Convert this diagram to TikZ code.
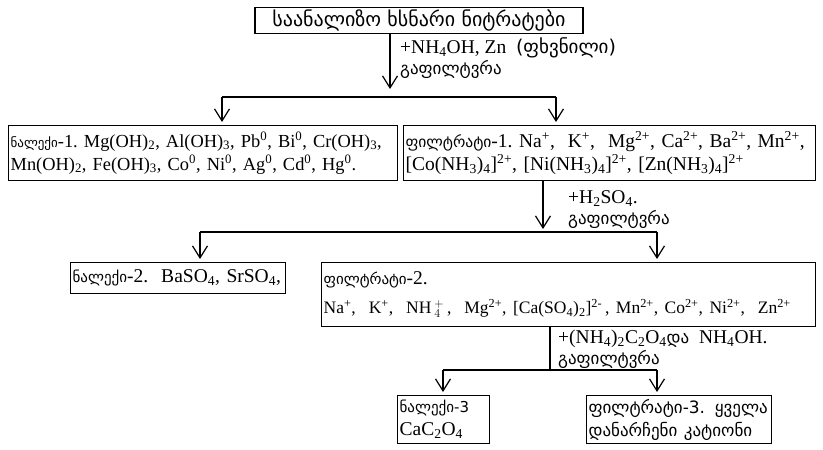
\documentclass[tikz,border=0pt]{standalone}
\usepackage{fontspec}
\setmainfont{Liberation Serif}
\newfontfamily\geo{DejaVu Sans}
\usetikzlibrary{arrows.meta}
% Georgian text at a given size
\newcommand{\ka}[2][17]{{\geo\fontsize{#1}{23}\selectfont #2}}
\newcommand{\sub}[1]{\textsubscript{#1}}
\newcommand{\sups}[1]{\textsuperscript{#1}}

\begin{document}
\begin{tikzpicture}[x=1pt,y=-1pt,
       box/.style={
           draw,
           line width=1.3pt,
           inner xsep=2pt,
           inner ysep=2pt,
           anchor=north west,
           align=left,
           font=\fontsize{19.5}{23}\selectfont
       },
       lbl/.style={
           anchor=north west,
           align=left,
           inner sep=0pt,
           font=\fontsize{19.5}{21}\selectfont
       },
       link/.style={line width=1.2pt},
       arr/.style={link, -{Straight Barb[length=12pt,width=15pt]}, shorten >=3pt}
   ]
   \useasboundingbox (0,0) rectangle (823,450);

   % Start
   \node[box, anchor=center, align=center, minimum width=328pt, minimum height=25pt]
       (src) at (419,20.5) {\ka[20]{საანალიზო ხსნარი ნიტრატები}};

   % First separation
   \node[box, text width=385pt, minimum height=55pt, font=\fontsize{18.4}{23}\selectfont] (nal1) at (8,125)
       {\ka[13]{ნალექი}-1.\ Mg(OH)\sub{2}, Al(OH)\sub{3}, Pb\sups{0}, Bi\sups{0}, Cr(OH)\sub{3},\\
        Mn(OH)\sub{2}, Fe(OH)\sub{3}, Co\sups{0}, Ni\sups{0}, Ag\sups{0}, Cd\sups{0}, Hg\sups{0}.};
   \node[box, text width=408pt, minimum height=55pt] (fil1) at (403,125)
       {\ka[15.5]{ფილტრატი}-1.\ Na\sups{+},\ \ K\sups{+},\ \ Mg\sups{2+}, Ca\sups{2+}, Ba\sups{2+}, Mn\sups{2+},\\
        {[}Co(NH\sub{3})\sub{4}]\sups{2+}, [Ni(NH\sub{3})\sub{4}]\sups{2+}, [Zn(NH\sub{3})\sub{4}]\sups{2+}};

   % Second separation
   \node[box, text width=211pt, minimum height=31pt] (nal2) at (70,262)
       {\ka[15]{ნალექი}-2.\ \ BaSO\sub{4}, SrSO\sub{4},};
   \node[box, text width=490pt, minimum height=64pt] (fil2) at (321,262)
       {\ka[15]{ფილტრატი}-2.\\[6pt]
        \fontsize{17.5}{21}\selectfont
        Na\sups{+},\ \ K\sups{+},\ \ NH\,$^{+}_{4}$\,,\ \ Mg\sups{2+}, [Ca(SO\sub{4})\sub{2}]\sups{2-}\,, Mn\sups{2+}, Co\sups{2+}, Ni\sups{2+},\ \ Zn\sups{2+}};

   % Third separation
   \node[box, text width=88pt, minimum height=48pt] (nal3) at (397,395)
       {\ka[15]{ნალექი-3}\\CaC\sub{2}O\sub{4}};
   \node[box, text width=181pt, minimum height=48pt] (fil3) at (586,395)
       {\ka{ფილტრატი-3. ყველა}\\\ka{დანარჩენი კატიონი}};

   % Junctions
   \coordinate (t1) at (390,89);
   \coordinate (a1) at (222,97);
   \coordinate (b1) at (556,97);
   \coordinate (t2) at (543,232);
   \coordinate (a2) at (200,232);
   \coordinate (b2) at (657,232);
   \coordinate (t3) at (550,370);
   \coordinate (a3) at (443,370);
   \coordinate (b3) at (657,370);

   % Connectors
   \draw[link, -{Straight Barb[length=12pt,width=15pt]}] (src.south -| t1) -- (t1);
   \draw[link] (a1) -- (b1);
   \draw[arr] (a1) -- (a1 |- nal1.north);
   \draw[arr] (b1) -- (b1 |- fil1.north);

   \draw[arr] (fil1.south -| t2) -- (t2);
   \draw[link] (a2) -- (b2);
   \draw[arr] (a2) -- (a2 |- nal2.north);
   \draw[arr] (b2) -- (b2 |- fil2.north);

   \draw[link] (fil2.south -| t3) -- (t3);
   \draw[link] (a3) -- (b3);
   \draw[arr] (a3) -- (a3 |- nal3.north);
   \draw[arr] (b3) -- (b3 |- fil3.north);

   % Reagents
   \node[lbl] (r1) at (400,37) {+NH\sub{4}OH, Zn\ \ \ka[19]{(ფხვნილი)}\\\ka{გაფილტვრა}};
   \node[lbl] (r2) at (568,190) {+H\sub{2}SO\sub{4}.\\\ka{გაფილტვრა}};
   \node[lbl] (r3) at (558,330) {+(NH\sub{4})\sub{2}C\sub{2}O\sub{4}\ka{და}\ \ NH\sub{4}OH.\\\ka{გაფილტვრა}};

\end{tikzpicture}
\end{document}
